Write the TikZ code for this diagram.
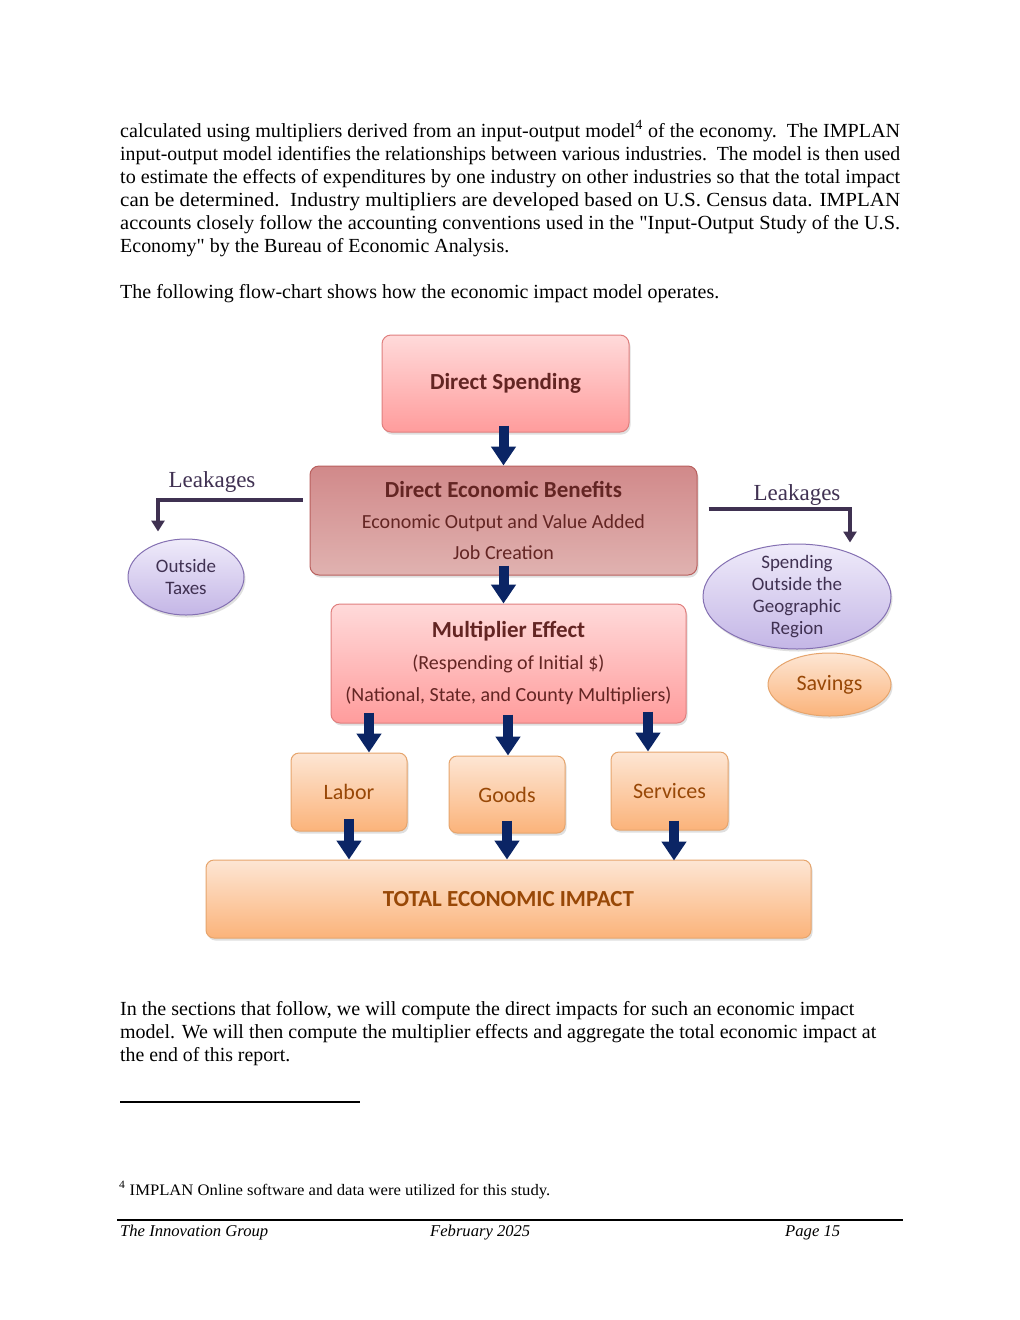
\documentclass[tikz,border=0pt]{standalone}
\usepackage{fontspec}
\usepackage{graphicx}
\setmainfont{Liberation Serif}
\newfontfamily\calibri{Carlito}
\usetikzlibrary{shapes.geometric, arrows.meta, shadows}
\definecolor{dsTop}{HTML}{FFDADA}
\definecolor{dsBot}{HTML}{FF9C9C}
\definecolor{dsLine}{HTML}{E07F7E}
\definecolor{debTop}{HTML}{D1898A}
\definecolor{debBot}{HTML}{E0B2B0}
\definecolor{debLine}{HTML}{B9605E}
\definecolor{multTop}{HTML}{FFE4E4}
\definecolor{multBot}{HTML}{FF9E9E}
\definecolor{orTop}{HTML}{FDE6D4}
\definecolor{orBot}{HTML}{FBB37A}
\definecolor{orLine}{HTML}{E6A56D}
\definecolor{puTop}{HTML}{EFEBFA}
\definecolor{puBot}{HTML}{C4B6E6}
\definecolor{puLine}{HTML}{8470B2}
\definecolor{redText}{HTML}{632523}
\definecolor{orText}{HTML}{984807}
\definecolor{puText}{HTML}{403152}
\definecolor{navy}{HTML}{0B2565}
\definecolor{leakLine}{HTML}{3F3151}
\tikzstyle{textline} = [anchor=base west, inner sep=0pt, font=\fontsize{20}{23}\selectfont]
\tikzstyle{footline} = [anchor=base west, inner sep=0pt, font=\fontsize{16.5}{19}\selectfont\itshape]
\tikzstyle{shade} = [drop shadow={opacity=0.25, shadow xshift=1.5pt, shadow yshift=-2.5pt}]
\tikzstyle{pinkbox} = [rectangle, rounded corners=9pt, draw=dsLine, line width=1pt, top color=dsTop, bottom color=dsBot, text=redText, align=center, inner sep=0pt, shade]
\tikzstyle{benefitbox} = [rectangle, rounded corners=9pt, draw=debLine, line width=1pt, top color=debTop, bottom color=debBot, text=redText, align=center, inner sep=0pt, shade]
\tikzstyle{orangebox} = [rectangle, rounded corners=8pt, draw=orLine, line width=1pt, top color=orTop, bottom color=orBot, text=orText, align=center, inner sep=0pt, shade]
\tikzstyle{purpleoval} = [ellipse, draw=puLine, line width=1pt, top color=puTop, bottom color=puBot, text=puText, align=center, inner sep=0pt, shade]
\tikzstyle{orangeoval} = [ellipse, draw=orLine, line width=1pt, top color=orTop, bottom color=orBot, text=orText, align=center, inner sep=0pt, shade]
\tikzstyle{blockarrow} = [navy, line width=10pt, -{Triangle[width=24pt,length=19pt]}]
\tikzstyle{leakarrow} = [leakLine, line width=4.5pt, -{Triangle[width=13pt,length=11pt]}]
\tikzstyle{leaklabel} = [inner sep=0pt, text=puText, font=\fontsize{23}{26}\selectfont]
\newcommand{\fitline}[2]{\resizebox{#1}{\height}{#2}}

\begin{document}
\begin{tikzpicture}[x=1pt, y=-1pt]
\useasboundingbox (0,0) rectangle (1020,1320);
\fill[white] (0,0) rectangle (1020,1320);

% text above the chart
\node (l1) [textline] at (120,137.5) {\fitline{780pt}{calculated using multipliers derived from an input-output model\textsuperscript{4} of the economy.\ \ The IMPLAN}};
\node (l2) [textline] at (120,160.5) {\fitline{780pt}{input-output model identifies the relationships between various industries.\ \ The model is then used}};
\node (l3) [textline] at (120,183.5) {\fitline{780pt}{to estimate the effects of expenditures by one industry on other industries so that the total impact}};
\node (l4) [textline] at (120,206.5) {\fitline{780pt}{can be determined.\ \ Industry multipliers are developed based on U.S. Census data. IMPLAN}};
\node (l5) [textline] at (120,229.5) {\fitline{780pt}{accounts closely follow the accounting conventions used in the \textquotedbl Input-Output Study of the U.S.}};
\node (l6) [textline] at (120,252.5) {\fitline{389pt}{Economy\textquotedbl{} by the Bureau of Economic Analysis.}};
\node (l7) [textline] at (120,298.5) {\fitline{599pt}{The following flow-chart shows how the economic impact model operates.}};

% chart
\node (ds) [pinkbox, minimum width=247pt, minimum height=97pt, font=\calibri\fontsize{23}{26}\selectfont\bfseries] at (505.5,383.5) {Direct Spending};
\node (deb) [benefitbox, minimum width=387pt, minimum height=109pt, font=\calibri\fontsize{20}{31}\selectfont] at (503.5,520.5) {{\fontsize{23}{31}\selectfont\bfseries Direct Economic Benefits}\\Economic Output and Value Added\\Job Creation};
\node (mult) [pinkbox, minimum width=355pt, minimum height=119pt, font=\calibri\fontsize{20}{32}\selectfont] at (508.5,663.5) {{\fontsize{23}{32}\selectfont\bfseries Multiplier Effect}\\(Respending of Initial \$)\\(National, State, and County Multipliers)};
\node (labor) [orangebox, minimum width=116pt, minimum height=78pt, font=\calibri\fontsize{22}{26}\selectfont] at (349,792) {Labor};
\node (goods) [orangebox, minimum width=116pt, minimum height=77pt, font=\calibri\fontsize{22}{26}\selectfont] at (507,794.5) {Goods};
\node (services) [orangebox, minimum width=117pt, minimum height=78pt, font=\calibri\fontsize{22}{26}\selectfont] at (669.5,791) {Services};
\node (total) [orangebox, minimum width=605pt, minimum height=78pt, font=\calibri\fontsize{23}{26}\selectfont\bfseries] at (508.5,899) {TOTAL ECONOMIC IMPACT};
\node (taxes) [purpleoval, minimum width=116pt, minimum height=76pt, font=\calibri\fontsize{19}{22}\selectfont] at (186,577) {Outside\\Taxes};
\node (spend) [purpleoval, minimum width=188pt, minimum height=105pt, inner ysep=-16pt, font=\calibri\fontsize{19}{22}\selectfont] at (797,596.5) {Spending\\Outside the\\Geographic\\Region};
\node (savings) [orangeoval, minimum width=123pt, minimum height=63pt, font=\calibri\fontsize{22}{26}\selectfont] at (829.5,684.5) {Savings};
\node (leakL) [leaklabel] at (212,482) {Leakages};
\node (leakR) [leaklabel] at (797,495) {Leakages};

\draw [blockarrow] (deb.north |- ds.south) ++(0,-7) -- (deb.north);
\draw [blockarrow] (deb.south) ++(0,-10) -- (deb.south |- mult.north);
\draw [blockarrow] ([xshift=20pt,yshift=40pt]labor.north) -- ([xshift=20pt]labor.north);
\draw [blockarrow] ([xshift=1pt,yshift=41pt]goods.north) -- ([xshift=1pt]goods.north);
\draw [blockarrow] ([xshift=-21.5pt,yshift=40pt]services.north) -- ([xshift=-21.5pt]services.north);
\draw [blockarrow] ([yshift=13pt]labor.south) -- (labor.south |- total.north);
\draw [blockarrow] ([yshift=13pt]goods.south) -- (goods.south |- total.north);
\draw [blockarrow] ([xshift=4.5pt,yshift=10pt]services.south) -- ([xshift=4.5pt,yshift=-30pt]services.south);
\draw [leakarrow] ([xshift=-7pt,yshift=20.5pt]deb.west) -| ([xshift=-28pt,yshift=7pt]taxes.north);
\draw [leakarrow] ([xshift=11pt,yshift=11.5pt]deb.east) -| ([xshift=53pt,yshift=1pt]spend.north);

% text below the chart
\node (l8) [textline] at (120,1015) {\fitline{734pt}{In the sections that follow, we will compute the direct impacts for such an economic impact}};
\node (l9) [textline] at (120,1038) {\fitline{756pt}{model. We will then compute the multiplier effects and aggregate the total economic impact at}};
\node (l10) [textline] at (120,1061) {\fitline{170pt}{the end of this report.}};
\draw [line width=1.4pt] (120,1102) -- (360,1102);
\node (fn) [anchor=base west, inner sep=0pt, font=\fontsize{16}{19}\selectfont] at (119,1195) {\fitline{431pt}{\textsuperscript{4} IMPLAN Online software and data were utilized for this study.}};
\draw [line width=2.2pt] (117,1220) -- (903,1220);
\node (f1) [footline] at (120,1236) {\fitline{148pt}{The Innovation Group}};
\node (f2) [footline] at (430,1236) {\fitline{100pt}{February 2025}};
\node (f3) [footline] at (785,1236) {\fitline{55pt}{Page 15}};
\end{tikzpicture}
\end{document}
